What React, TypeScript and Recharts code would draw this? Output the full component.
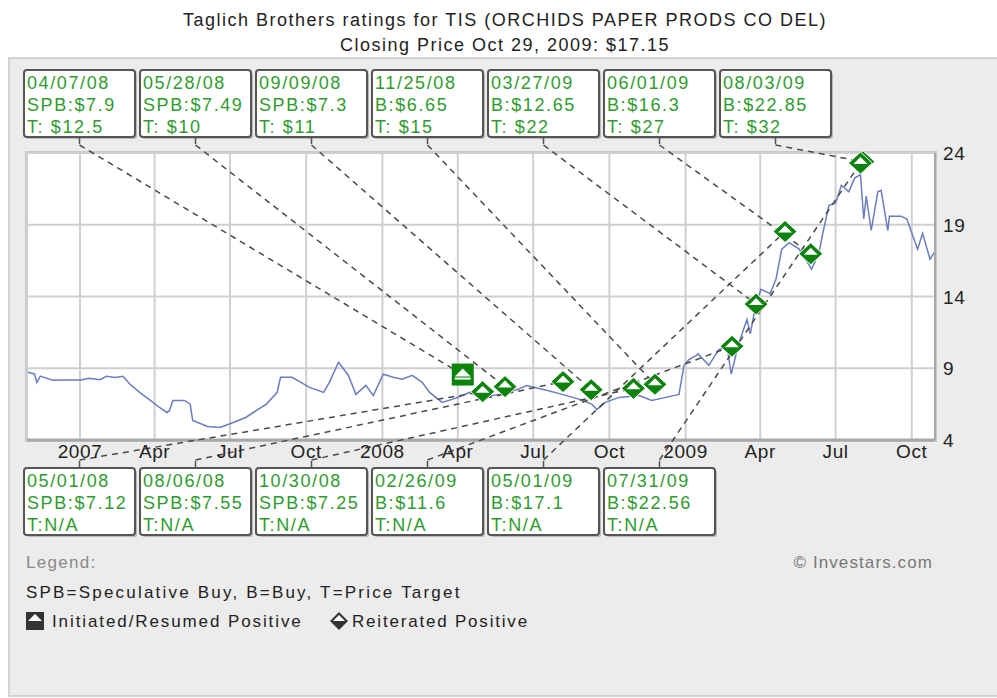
import React from 'react';
import { ComposedChart, Line, Scatter, XAxis, YAxis, CartesianGrid } from 'recharts';

// closing prices
const priceDates = [
  '2006-10-30', '2006-11-07', '2006-11-10', '2006-11-14', '2006-11-29', '2006-12-15',
  '2007-01-02', '2007-01-12', '2007-01-25', '2007-02-02', '2007-02-12', '2007-02-22',
  '2007-03-02', '2007-03-14', '2007-03-30', '2007-04-06', '2007-04-16', '2007-04-19',
  '2007-04-23', '2007-05-07', '2007-05-14', '2007-05-17', '2007-06-04', '2007-06-19',
  '2007-07-05', '2007-07-20', '2007-08-02', '2007-08-14', '2007-08-27', '2007-08-31',
  '2007-09-14', '2007-10-05', '2007-10-22', '2007-10-29', '2007-11-09', '2007-11-21',
  '2007-11-30', '2007-12-12', '2007-12-21', '2008-01-02', '2008-01-14', '2008-01-25',
  '2008-02-06', '2008-02-18', '2008-02-27', '2008-03-13', '2008-03-25', '2008-04-07',
  '2008-04-15', '2008-04-28', '2008-05-21', '2008-06-13', '2008-06-23', '2008-07-17',
  '2008-08-05', '2008-08-26', '2008-09-10', '2008-09-16', '2008-09-26', '2008-10-13',
  '2008-11-06', '2008-11-21', '2008-12-08', '2008-12-24', '2008-12-30', '2009-01-05',
  '2009-01-14', '2009-01-16', '2009-01-29', '2009-02-10', '2009-02-20', '2009-02-25',
  '2009-03-06', '2009-03-16', '2009-03-20', '2009-03-27', '2009-04-02', '2009-04-13',
  '2009-04-20', '2009-04-27', '2009-05-06', '2009-05-18', '2009-06-02', '2009-06-11',
  '2009-06-15', '2009-06-23', '2009-07-01', '2009-07-08', '2009-07-17', '2009-07-24',
  '2009-07-31', '2009-08-04', '2009-08-07', '2009-08-13', '2009-08-21', '2009-08-25',
  '2009-09-02', '2009-09-04', '2009-09-18', '2009-09-25', '2009-10-08', '2009-10-14',
  '2009-10-23', '2009-10-29',
];
const priceValues = [
  8.72, 8.6, 8.0, 8.45, 8.16, 8.18,
  8.18, 8.3, 8.2, 8.44, 8.35, 8.44,
  7.9, 7.32, 6.62, 6.3, 5.92, 6.06,
  6.76, 6.76, 6.5, 5.36, 4.94, 4.87,
  5.22, 5.57, 6.06, 6.5, 7.32, 8.37,
  8.37, 7.67, 7.32, 8.02, 9.42, 8.5,
  7.18, 7.81, 7.1, 8.58, 8.37, 8.23,
  8.5, 8.02, 7.32, 6.62, 6.83, 7.1,
  7.32, 6.97, 7.18, 7.53, 7.8, 7.46,
  7.18, 6.83, 6.48, 6.13, 6.62, 6.97,
  7.1, 6.76, 6.97, 7.18, 9.2, 9.6,
  9.9, 10.0, 9.2, 10.3, 10.5, 8.6,
  10.7, 12.4, 11.4, 13.5, 14.5, 14.2,
  15.2, 17.3, 17.75, 17.3, 15.9, 17.05,
  18.25, 20.35, 20.5, 21.75, 21.3, 22.25,
  22.5, 19.4, 21.0, 18.6, 21.3, 21.4,
  18.6, 19.6, 19.6, 19.4, 17.3, 18.4,
  16.6, 17.15,
];

// ratings shown in the boxes above the chart
const topDates = ['04/07/08', '05/28/08', '09/09/08', '11/25/08', '03/27/09', '06/01/09', '08/03/09'];
const topRatings = ['SPB:$7.9', 'SPB:$7.49', 'SPB:$7.3', 'B:$6.65', 'B:$12.65', 'B:$16.3', 'B:$22.85'];
const topTargets = ['T: $12.5', 'T: $10', 'T: $11', 'T: $15', 'T: $22', 'T: $27', 'T: $32'];
const topKinds = ['initiated', 'reiterated', 'reiterated', 'reiterated', 'reiterated', 'reiterated', 'reiterated'];
const topMarkerValues = [8.56, 7.72, 7.51, 7.88, 13.47, 16.98, 23.39];

// ratings shown in the boxes below the chart
const bottomDates = ['05/01/08', '08/06/08', '10/30/08', '02/26/09', '05/01/09', '07/31/09'];
const bottomRatings = ['SPB:$7.12', 'SPB:$7.55', 'SPB:$7.25', 'B:$11.6', 'B:$17.1', 'B:$22.56'];
const bottomTargets = ['T:N/A', 'T:N/A', 'T:N/A', 'T:N/A', 'T:N/A', 'T:N/A'];
const bottomMarkerValues = [7.37, 8.07, 7.6, 10.53, 18.53, 23.3];

const xTickDates = [
  '2007-01-01', '2007-04-01', '2007-07-01', '2007-10-01',
  '2008-01-01', '2008-04-01', '2008-07-01', '2008-10-01',
  '2009-01-01', '2009-04-01', '2009-07-01', '2009-10-01',
];
const yTicks = [4, 9, 14, 19, 24];
const monthNames = ['Jan', 'Feb', 'Mar', 'Apr', 'May', 'Jun', 'Jul', 'Aug', 'Sep', 'Oct', 'Nov', 'Dec'];

const FONT = '"Liberation Sans", Arial, sans-serif';
const GREEN_TEXT = '#2f9b2f';
const MARKER_GREEN = '#0c830c';

const BOX_X0 = 24;
const BOX_STEP = 116;
const BOX_W = 111;
const BOX_H = 67;
const TOP_BOX_Y = 70;
const BOTTOM_BOX_Y = 468;

const iso = (s: string) => {
  const [y, m, d] = s.split('-').map(Number);
  return Date.UTC(y, m - 1, d);
};
const mdy = (s: string) => {
  const [m, d, y] = s.split('/').map(Number);
  return Date.UTC(2000 + y, m - 1, d);
};

const priceData = priceDates.map((d, i) => ({ t: iso(d), price: priceValues[i] }));
const markerData = [
  ...topDates.map((d, i) => ({ t: mdy(d), v: topMarkerValues[i], side: 'top', slot: i, kind: topKinds[i] })),
  ...bottomDates.map((d, i) => ({ t: mdy(d), v: bottomMarkerValues[i], side: 'bottom', slot: i, kind: 'reiterated' })),
];
const xTicks = xTickDates.map(iso);

const boxCenter = (slot: number) => BOX_X0 + slot * BOX_STEP + BOX_W / 2;

const Connector = (props: any) => {
  const { cx, cy, payload } = props;
  const x1 = boxCenter(payload.slot);
  const y1 = payload.side === 'top' ? TOP_BOX_Y + BOX_H + 8 : BOTTOM_BOX_Y - 8;
  return (
    <line x1={x1} y1={y1} x2={cx} y2={cy} stroke="#4a4a4a" strokeWidth={1.5} strokeDasharray="6 5" />
  );
};

const Marker = (props: any) => {
  const { cx, cy, payload } = props;
  if (payload.kind === 'initiated') {
    return (
      <g>
        <rect x={cx - 11} y={cy - 11} width={22} height={22} fill={MARKER_GREEN} />
        <polygon points={`${cx},${cy - 6} ${cx + 8},${cy + 2} ${cx - 8},${cy + 2}`} fill="#fff" />
        <rect x={cx - 8} y={cy + 3} width={16} height={2} fill="#fff" />
      </g>
    );
  }
  return (
    <g>
      <polygon points={`${cx},${cy - 11} ${cx + 12},${cy} ${cx},${cy + 11} ${cx - 12},${cy}`} fill={MARKER_GREEN} stroke="#fff" strokeWidth={1} />
      <polygon points={`${cx},${cy - 6} ${cx + 7},${cy + 1} ${cx - 7},${cy + 1}`} fill="#fff" />
    </g>
  );
};

const XTick = (props: any) => {
  const { x, y, payload } = props;
  const d = new Date(payload.value);
  const m = d.getUTCMonth();
  const label = m === 0 ? String(d.getUTCFullYear()) : monthNames[m];
  return (
    <text x={x} y={y + 10} textAnchor="middle" fontFamily={FONT} fontSize={19} fill="#222" letterSpacing={0.6}>
      {label}
    </text>
  );
};

const YTick = (props: any) => {
  const { x, y, payload } = props;
  return (
    <text x={x} y={y + 7} textAnchor="start" fontFamily={FONT} fontSize={19} fill="#222" letterSpacing={0.6}>
      {payload.value}
    </text>
  );
};

const RatingBox = ({ slot, y, lines, side }: { slot: number; y: number; lines: string[]; side: string }) => {
  const x = BOX_X0 + slot * BOX_STEP;
  const cx = x + BOX_W / 2;
  return (
    <g>
      <rect x={x + 2} y={y + 2} width={BOX_W} height={BOX_H} rx={3} fill="#b9b9b9" />
      <rect x={x} y={y} width={BOX_W} height={BOX_H} rx={3} fill="#fff" stroke="#555" strokeWidth={2} />
      {side === 'top' ? (
        <line x1={cx} y1={y + BOX_H} x2={cx} y2={y + BOX_H + 7} stroke="#555" strokeWidth={1.5} />
      ) : (
        <line x1={cx} y1={y - 7} x2={cx} y2={y} stroke="#555" strokeWidth={1.5} />
      )}
      {lines.map((s, i) => (
        <text key={i} x={x + 3} y={y + 19 + i * 22} fontFamily={FONT} fontSize={18} fill={GREEN_TEXT} letterSpacing={1.6}>
          {s}
        </text>
      ))}
    </g>
  );
};

const Backdrop = () => (
  <svg width={997} height={698} style={{ position: 'absolute', left: 0, top: 0 }}>
    <rect x={0} y={0} width={997} height={698} fill="#fff" />
    <rect x={9} y={58} width={995} height={638} fill="#ececec" stroke="#c8c8c8" strokeWidth={1.5} />
    <text x={505} y={26} textAnchor="middle" fontFamily={FONT} fontSize={18} fill="#222" letterSpacing={1.5}>
      Taglich Brothers ratings for TIS (ORCHIDS PAPER PRODS CO DEL)
    </text>
    <text x={505} y={51} textAnchor="middle" fontFamily={FONT} fontSize={18} fill="#222" letterSpacing={1.5}>
      Closing Price Oct 29, 2009: $17.15
    </text>
    <rect x={26} y={152} width={910} height={289} fill="#fff" stroke="#c8c8c8" strokeWidth={2} />
    {topDates.map((d, i) => (
      <RatingBox key={d} slot={i} y={TOP_BOX_Y} side="top" lines={[d, topRatings[i], topTargets[i]]} />
    ))}
    {bottomDates.map((d, i) => (
      <RatingBox key={d} slot={i} y={BOTTOM_BOX_Y} side="bottom" lines={[d, bottomRatings[i], bottomTargets[i]]} />
    ))}
    <text x={26} y={568} fontFamily={FONT} fontSize={17} fill="#8a8a8a" letterSpacing={1.3}>Legend:</text>
    <text x={933} y={568} textAnchor="end" fontFamily={FONT} fontSize={17} fill="#777" letterSpacing={1.1}>© Investars.com</text>
    <text x={26} y={598} fontFamily={FONT} fontSize={17} fill="#222" letterSpacing={2.2}>
      SPB=Speculative Buy, B=Buy, T=Price Target
    </text>
    <rect x={26} y={612} width={18} height={18} fill="#333" />
    <polygon points="35,614 42,621 28,621" fill="#fff" />
    <text x={52} y={627} fontFamily={FONT} fontSize={17} fill="#222" letterSpacing={1.9}>Initiated/Resumed Positive</text>
    <polygon points="339,612 348,621 339,630 330,621" fill="#333" />
    <polygon points="339,615 345,621 333,621" fill="#fff" />
    <text x={352} y={627} fontFamily={FONT} fontSize={17} fill="#222" letterSpacing={1.8}>Reiterated Positive</text>
  </svg>
);

export default function App() {
  return (
    <div style={{ position: 'relative', width: 997, height: 698, overflow: 'hidden' }}>
      <style>{'body{margin:0}'}</style>
      <Backdrop />
      <div style={{ position: 'absolute', left: 0, top: 0 }}>
        <ComposedChart width={997} height={698} data={priceData} margin={{ top: 153, right: 7, bottom: 228, left: 27 }} style={{ overflow: 'visible' }}>
          <CartesianGrid stroke="#cfcfcf" strokeWidth={2} fill="none" />
          <XAxis
            dataKey="t"
            type="number"
            scale="time"
            domain={[iso('2006-10-29'), iso('2009-10-29')]}
            ticks={xTicks}
            interval={0}
            tick={<XTick />}
            tickLine={false}
            axisLine={{ stroke: '#a8a8a8', strokeWidth: 3 }}
            height={30}
          />
          <YAxis
            orientation="right"
            domain={[4, 24]}
            ticks={yTicks}
            interval={0}
            tick={<YTick />}
            tickLine={false}
            axisLine={{ stroke: '#a8a8a8', strokeWidth: 2 }}
            width={55}
          />
          <Line dataKey="price" type="linear" stroke="#6a7dc0" strokeWidth={1.5} dot={false} activeDot={false} isAnimationActive={false} />
          <Scatter data={markerData} dataKey="v" shape={<Connector />} isAnimationActive={false} />
          <Scatter data={markerData} dataKey="v" shape={<Marker />} isAnimationActive={false} />
        </ComposedChart>
      </div>
    </div>
  );
}
